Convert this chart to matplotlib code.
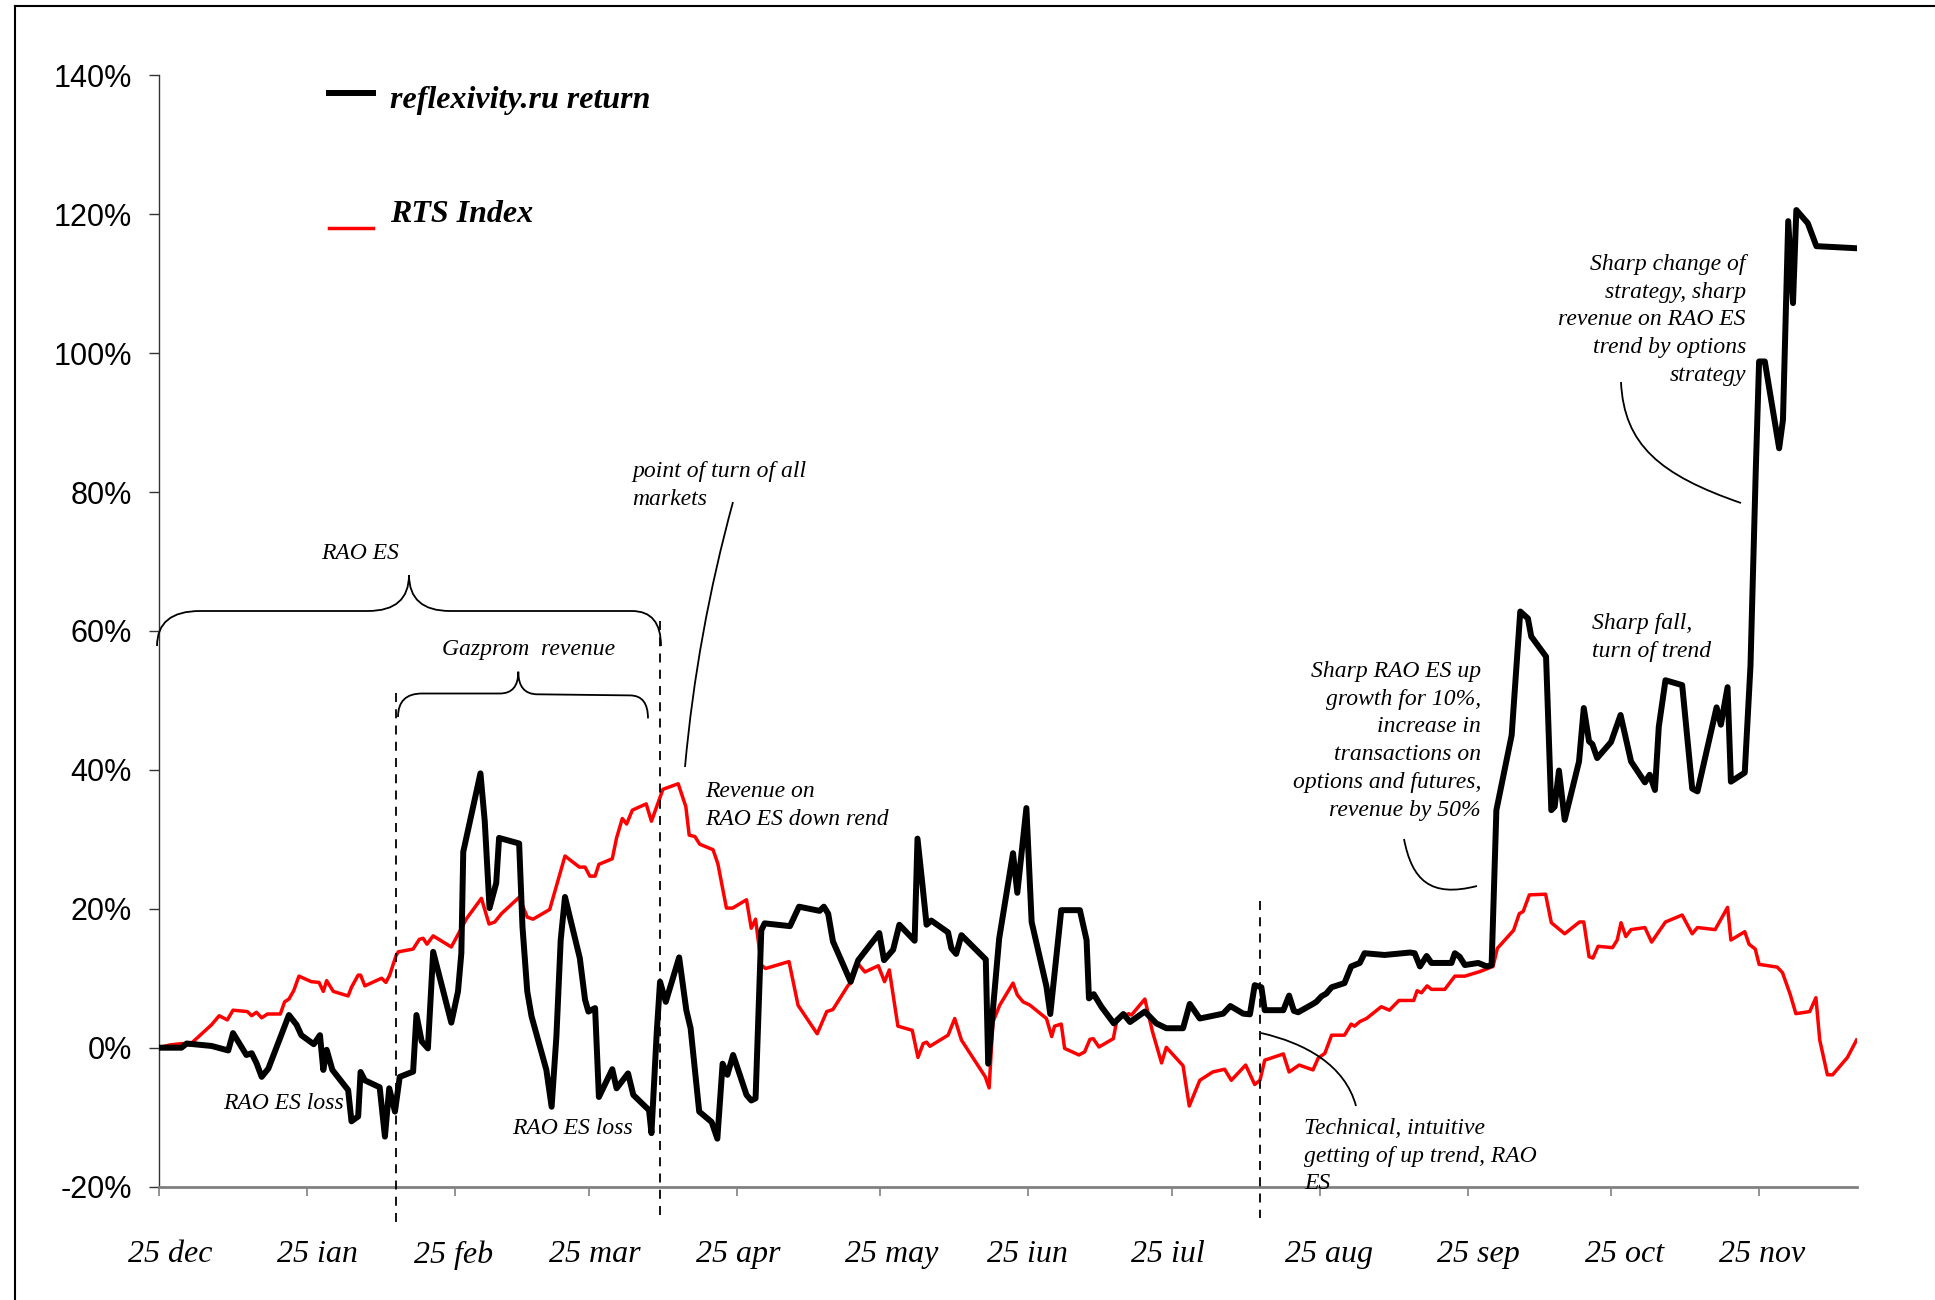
import numpy as np
import pandas as pd
import matplotlib
matplotlib.use("Agg")
import matplotlib.pyplot as plt
from matplotlib.path import Path
from matplotlib.patches import PathPatch
from matplotlib.lines import Line2D
from matplotlib.transforms import ScaledTranslation

# ---------------- data (days since 25 Dec, return in %) ----------------
start_date = pd.Timestamp("2004-12-25")
tick_dates = pd.date_range("2004-12-25", periods=12, freq=pd.DateOffset(months=1))
tick_labels = ["25 dec", "25 ian", "25 feb", "25 mar", "25 apr", "25 may",
               "25 iun", "25 iul", "25 aug", "25 sep", "25 oct", "25 nov"]
y_ticks = [-20, 0, 20, 40, 60, 80, 100, 120, 140]

fund_days = [0, 4.7, 5.8, 11, 14.5, 15.5, 18.3, 19.4, 20.4, 21.5, 22.9, 27.2, 28.8, 29.8,
             32.4, 33.7, 34.4, 35.1, 36.3, 39.6, 40.3, 41.7, 42.2, 43.1, 46.2, 47.3, 48.2,
             49.4, 50.4, 53.2, 53.9, 55, 56.3, 57.4, 61.2, 62.6, 63.3, 63.7, 67.3, 68.2,
             69.2, 70.6, 71.2, 75.4, 76.1, 77.1, 78, 81.1, 82.2, 83.2, 84.1, 85, 88.1, 89.2,
             89.9, 91.3, 92.1, 94.9, 95.8, 98.2, 99.3, 102.6, 103.1, 104.2, 104.9, 106.1,
             108.9, 110.4, 111.3, 113.1, 115.7, 116.9, 118, 119, 120.2, 121.6, 123, 124,
             124.9, 126.1, 126.8, 132.1, 134, 138.3, 139.2, 140.1, 141.1, 141.8, 144.8,
             146.4, 150.8, 151.8, 153.7, 155, 158.2, 158.8, 159.8, 160.7, 161.7, 165.2,
             165.9, 166.9, 168, 173.1, 173.6, 175.9, 178.8, 179.7, 181.6, 182.7, 185.8,
             186.6, 188.9, 192.8, 194.2, 194.7, 195.7, 197.3, 199.9, 201.9, 203.3, 206.4,
             208.8, 210.9, 214.4, 215.8, 217.9, 220.7, 222.8, 224.3, 227, 228.4, 229.4,
             230.8, 231.5, 235.4, 236.6, 237.6, 238.5, 241.6, 242.3, 243.4, 244.4, 245.5,
             248.2, 249.6, 251.4, 252.4, 256.6, 261.9, 262.9, 264, 265.4, 266.4, 270.6,
             271.3, 272.3, 273.4, 276.2, 278, 279, 280, 283.2, 285, 286.6, 287.3, 290.4,
             291.5, 292.2, 293.1, 294.3, 297.3, 298.3, 299.4, 300.1, 301.1, 304, 306,
             308.2, 311.1, 312.1, 313.2, 314, 315.4, 318.9, 321, 322.1, 326.1, 327, 328.4,
             329.1, 332, 333.2, 334.3, 335, 336.2, 339.2, 340, 341.1, 342.1, 342.8, 345.2,
             347, 355.4]
fund_ret = [0, 0, 0.6, 0.25, -0.4, 2.1, -1.05, -0.8, -2.2, -4.2, -3.0, 4.7, 3.3, 1.8,
            0.5, 1.8, -3.2, -0.3, -3.2, -6.1, -10.6, -9.9, -3.5, -4.7, -5.7, -12.8, -5.85,
            -9.2, -4.2, -3.45, 4.7, 0.9, -0.1, 13.8, 3.6, 8.1, 13.6, 28.2, 39.5, 32.6,
            20.1, 23.7, 30.2, 29.4, 17.4, 8.1, 4.5, -3.2, -8.5, 1.6, 15.5, 21.7, 12.9, 6.9,
            5.2, 5.7, -7.1, -3.1, -5.85, -3.7, -6.8, -9.0, -12.3, 2.1, 9.5, 6.6,
            13.0, 5.4, 2.8, -9.2, -10.7, -13.1, -2.3, -3.9, -1.05, -3.9, -6.8, -7.6,
            -7.3, 16.9, 17.9, 17.5, 20.3, 19.7, 20.3, 19.3, 15.3, 14.2, 9.5,
            12.6, 16.5, 12.6, 14.1, 17.7, 15.4, 30.1, 23.7, 17.7, 18.3, 16.6,
            14.3, 13.5, 16.2, 12.7, -2.3, 15.7, 28.0, 22.3, 34.5, 18.1, 8.8,
            4.85, 19.8, 19.8, 15.5, 7.1, 7.7, 5.9, 3.5, 4.85, 3.7, 5.2,
            3.5, 2.8, 2.8, 6.3, 4.2, 4.6, 4.9, 6.0, 4.9, 4.8, 9.0,
            8.7, 5.4, 5.4, 7.5, 5.3, 5.1, 6.3, 6.6, 7.4, 7.8, 8.7,
            9.3, 11.7, 12.2, 13.6, 13.35, 13.7, 13.6, 11.7, 13.2, 12.2, 12.2,
            13.6, 13.1, 11.9, 12.2, 11.7, 11.9, 34.2, 45.0, 62.8, 61.8, 59.2, 56.3,
            34.2, 34.7, 39.9, 32.8, 41.2, 48.9, 44.1, 43.7, 41.7, 44, 47.9,
            41.2, 38.2, 39.3, 37.1, 46.2, 52.9, 52.2, 37.3, 36.9, 49, 46.5, 51.9,
            38.3, 39.6, 55, 83, 98.8, 98.8, 86.3, 90.4, 119, 107.2, 120.6, 118.7,
            115.4, 115.1]

rts_days = [0, 2.3, 5, 6.4, 11, 12.6, 14.3, 15.5, 18.5, 19.4, 20.4, 21.5, 22.7, 25.4,
            26.3, 27.2, 28.2, 29.3, 31.9, 33.5, 34.4, 35.1, 36.5, 39.6, 40.3, 41.7, 42.2,
            43.1, 46.6, 47.5, 48.3, 49.6, 50.1, 53.2, 54.5, 55.3, 56.1, 57.4, 61.2, 64.4,
            67.5, 69.1, 70.3, 71.7, 75.4, 77.1, 78.3, 81.8, 85, 88, 89.2, 90.2, 91.3, 92.1,
            94.9, 95.8, 97, 97.9, 99.1, 102, 103.1, 105.5, 108.7, 110.3, 111, 112.2, 113.2,
            116, 117, 118.8, 120.1, 123, 124, 124.9, 126.1, 127, 131.9, 133.8, 137.8,
            139.8, 141.1, 144.3, 145, 146.2, 147.8, 150.6, 151.9, 152.9, 154.7, 157.7,
            158.9, 160, 160.7, 161.4, 165.2, 166.6, 168, 173, 173.8, 174.6, 176, 178.8,
            179.7, 180.9, 182.3, 185.8, 186.9, 187.5, 188.9, 189.6, 192.6, 193.8, 194.9,
            195.6, 196.8, 199.8, 200.6, 201.9, 203, 203.6, 206.4, 208, 209.9, 210.9, 214.4,
            215.7, 217.9, 220.6, 223.1, 224.5, 227.5, 229.4, 230.5, 231.5, 235.4, 236.6,
            238.7, 241.6, 242.7, 244.1, 245.5, 248.2, 249.6, 250.3, 251.4, 252.8, 255.9,
            257.6, 259.6, 262.7, 263.4, 264.3, 265.5, 266.4, 269.2, 271.3, 273.4, 276.5,
            279.3, 280.2, 283.6, 284.8, 285.6, 286.9, 290.3, 291.5, 294.3, 297.4, 298.3,
            299.4, 300.2, 301.3, 304.3, 305.3, 306.1, 307.1, 308.2, 311.1, 312.5, 315.4,
            318.9, 321, 322.1, 325.8, 328.4, 329.1, 332, 332.9, 334.2, 335, 338.8, 339.9,
            341.5, 342.7, 345.6, 346.9, 347.7, 349.3, 350.4, 353.5, 355.4]
rts_ret = [0, 0.4, 0.6, 0.4, 3.3, 4.6, 4.0, 5.4, 5.2, 4.6, 5.1, 4.3, 4.85, 4.85,
           6.6, 7.0, 8.2, 10.3, 9.5, 9.4, 8.1, 9.65, 8.1, 7.45, 8.7, 10.45, 10.45,
           8.9, 10.0, 9.4, 10.45, 13.2, 13.8, 14.2, 15.6, 15.75, 14.9, 16.1, 14.5, 18.6,
           21.5, 17.8, 18.1, 19.3, 21.65, 18.8, 18.5, 19.9, 27.6, 26.0, 26.0, 24.7, 24.7, 26.4,
           27.2, 30.2, 33.0, 32.2, 34.2, 35.1, 32.6, 37.2, 38.0, 34.7, 30.6, 30.4, 29.3,
           28.5, 26.5, 20.1, 20.1, 21.3, 17.2, 18.5, 11.9, 11.4, 12.4, 6.1, 2.0,
           5.2, 5.5, 9.0, 9.4, 12.2, 10.9, 11.8, 9.5, 11.2, 3.1, 2.5,
           -1.4, 0.6, 0.8, 0.2, 1.8, 4.2, 1.1, -4.2, -5.8, 3.7, 6.1, 9.3,
           7.6, 6.6, 6.15, 4.2, 1.6, 3.1, 3.4, -0.1, -1.05, -0.6, 1.2,
           1.3, 0.1, 1.3, 4.2, 4.5, 4.9, 4.7, 7.0, 2.3, -2.2, 0.05, -2.6,
           -8.4, -4.7, -3.5, -3.1, -4.7, -2.5, -5.3, -4.7, -1.8, -0.9, -3.5,
           -2.5, -3.2, -1.5, -0.8, 1.8, 1.8, 3.4, 3.1, 3.75, 4.2, 5.9,
           5.4, 6.8, 6.8, 8.2, 7.9, 8.9, 8.4, 8.4, 10.3, 10.3, 10.95,
           11.7, 14.3, 16.9, 19.3, 19.6, 22.0, 22.1, 18.0, 16.4, 18.1, 18.1,
           13.1, 12.9, 14.6, 14.4, 15.5, 18.0, 16.0, 17.0, 17.3, 15.2, 18.1,
           19.1, 16.4, 17.3, 17.0, 20.2, 15.5, 16.7, 14.9, 14.2, 12.0, 11.6, 10.8,
           7.7, 4.9, 5.2, 7.2, 1.1, -3.9, -3.9, -1.4, 1.1]

# ---------------- figure ----------------
W, H = 1935, 1300
fig = plt.figure(figsize=(W / 100, H / 100), dpi=100)
fig.patch.set_facecolor("white")

ax_left, ax_right, ax_top, ax_bot = 159, 1857, 75.3, 1186.6
ax = fig.add_axes([ax_left / W, 1 - ax_bot / H, (ax_right - ax_left) / W, (ax_bot - ax_top) / H])

ax.plot(rts_days, rts_ret, color="#ff0000", lw=2.5, solid_joinstyle="round", zorder=3)
ax.plot(fund_days, fund_ret, color="black", lw=4.3, solid_joinstyle="round",
        solid_capstyle="round", zorder=4)

ax.set_xlim(0, 355.5)
ax.set_ylim(-20, 140)
tick_days = [(d - start_date).days for d in tick_dates]
ax.set_xticks(tick_days)
ax.set_xticklabels(tick_labels)
ax.set_yticks(y_ticks)
ax.set_yticklabels([f"{v}%" for v in y_ticks])

for s in ("top", "right"):
    ax.spines[s].set_visible(False)
ax.spines["left"].set_color("#333333")
ax.spines["left"].set_linewidth(1.0)
ax.spines["bottom"].set_color("#808080")
ax.spines["bottom"].set_linewidth(2.0)

ax.tick_params(axis="y", direction="out", length=7.2, width=1.0, color="#333333",
               pad=12.5, labelsize=22)
ax.tick_params(axis="x", direction="out", length=6.5, width=1.2, color="#808080",
               pad=32, labelsize=23)
for lbl in ax.get_yticklabels():
    lbl.set_fontfamily(["Liberation Sans", "DejaVu Sans"])
# small horizontal shifts of the date labels as placed in the original (pixels)
label_shift_px = [11, 10, -2, 6, 1, 11, -1, -4, 9, 11, 13.5, 3]
for lbl, dx in zip(ax.get_xticklabels(), label_shift_px):
    lbl.set_fontfamily(["Liberation Serif", "DejaVu Serif"])
    lbl.set_fontstyle("italic")
    lbl.set_transform(lbl.get_transform() + ScaledTranslation(dx / 100, 0, fig.dpi_scale_trans))

# ---------------- overlay for frame, legend and annotations ----------------
ov = fig.add_axes([0, 0, 1, 1])
ov.set_xlim(0, W)
ov.set_ylim(H, 0)
ov.axis("off")
ov.patch.set_alpha(0)

# outer frame (left and top edges visible)
ov.add_line(Line2D([15, 15], [6, H], color="black", lw=1.5))
ov.add_line(Line2D([15, W], [6, 6], color="black", lw=1.5))

serif = ["Liberation Serif", "DejaVu Serif"]

# legend
ov.add_line(Line2D([329, 373], [92.5, 92.5], color="black", lw=4.3))
ov.add_line(Line2D([329, 373], [228, 228], color="#ff0000", lw=2.5))
ov.text(390, 108, "reflexivity.ru return", family=serif, style="italic", weight="bold",
        fontsize=23, ha="left", va="baseline")
ov.text(390, 221.7, "RTS Index", family=serif, style="italic", weight="bold",
        fontsize=23, ha="left", va="baseline")

# dashed vertical separators
for xx, y0, y1 in [(396.2, 693, 1222), (660.4, 621, 1218), (1260, 901, 1218)]:
    ov.add_line(Line2D([xx, xx], [y0, y1], color="black", lw=1.3, ls=(0, (5, 4))))


def path_patch(verts, codes):
    ov.add_patch(PathPatch(Path(verts, codes), fill=False, edgecolor="black", lw=1.3))


M, L, C3, C4 = Path.MOVETO, Path.LINETO, Path.CURVE3, Path.CURVE4

# big brace "RAO ES"
path_patch([(157, 646), (157, 611), (200, 611), (368, 611), (409, 611), (409, 575),
            (409, 611), (450, 611), (632, 611), (661, 611), (661, 646)],
           [M, C3, C3, L, C3, C3, C3, C3, L, C3, C3])
# small brace "Gazprom revenue"
path_patch([(398, 717), (398, 693.5), (422, 693.5), (500, 693.5), (518.3, 693.5), (518.3, 671.7),
            (518.3, 694), (537, 694.3), (630, 695.4), (648, 695.4), (648, 718.4)],
           [M, C3, C3, L, C3, C3, C3, C3, L, C3, C3])
# pointer lines
path_patch([(733, 502), (697, 633.5), (685, 767)], [M, C3, C3])
path_patch([(1404, 839), (1412, 880), (1430, 898), (1477, 886)], [M, C4, C4, C4])
path_patch([(1621, 382), (1624, 445), (1660, 475), (1741, 503)], [M, C4, C4, C4])
path_patch([(1261, 1033), (1305, 1043), (1345, 1065), (1356, 1106)], [M, C4, C4, C4])

ann_fs = 17
ls = 1.42
notes = [
    (360, 543, "RAO ES", "center"),
    (529, 639, "Gazprom  revenue", "center"),
    (632, 461, "point of turn of all\nmarkets", "left"),
    (705, 781, "Revenue on\nRAO ES down rend", "left"),
    (223, 1093, "RAO ES loss", "left"),
    (512, 1118, "RAO ES loss", "left"),
    (1481, 661, "Sharp RAO ES up\ngrowth for 10%,\nincrease in\ntransactions on\n"
                "options and futures,\nrevenue by 50%", "right"),
    (1592, 613, "Sharp fall,\nturn of trend", "left"),
    (1746, 254, "Sharp change of\nstrategy, sharp\nrevenue on RAO ES\ntrend by options\nstrategy",
     "right"),
    (1304, 1118, "Technical, intuitive\ngetting of up trend, RAO\nES", "left"),
]
for x, y, txt, ha in notes:
    ov.text(x, y, txt, family=serif, style="italic", fontsize=ann_fs, ha=ha,
            multialignment=ha, va="top", linespacing=ls)

fig.savefig("out.png", dpi=100, facecolor="white")
